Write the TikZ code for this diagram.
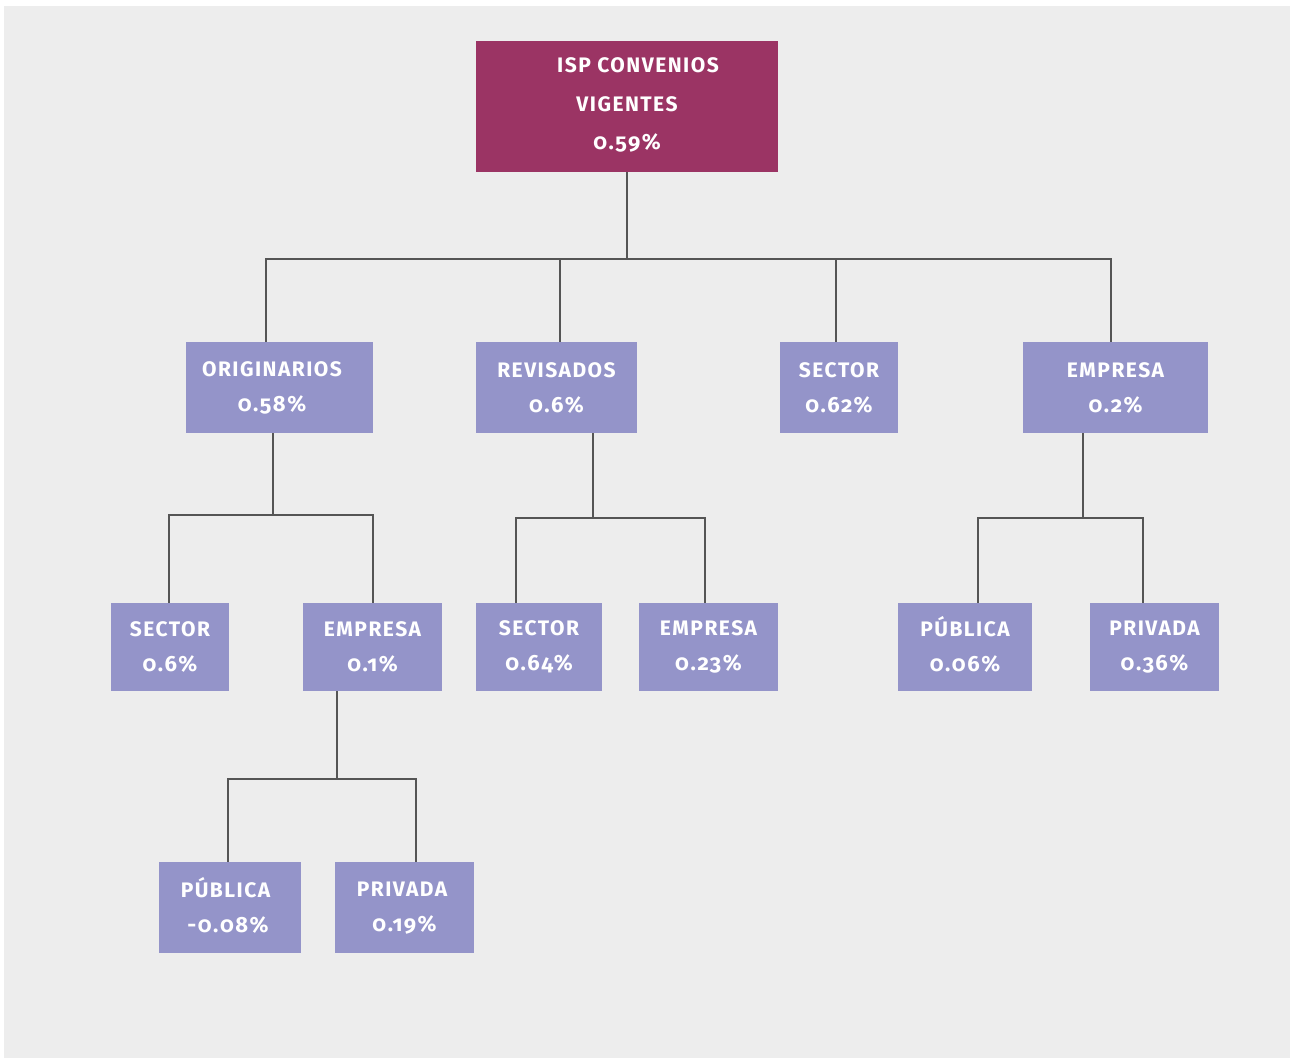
\documentclass[tikz,border=0pt]{standalone}
\usepackage{fontspec}
\setmainfont{Fira Sans}[Numbers=OldStyle,LetterSpace=7]
\definecolor{vino}{HTML}{9B3464}
\definecolor{lila}{HTML}{9494C9}
\definecolor{fondo}{HTML}{EDEDED}
\definecolor{linea}{HTML}{555555}
\newcommand\lbl[2]{\raisebox{0pt}[15pt][0pt]{#1}\\{\fontsize{22}{35}\selectfont #2}}

\begin{document}
\begin{tikzpicture}[x=1pt,y=-1pt,
  box/.style={fill=lila,text=white,inner sep=0pt,minimum height=91pt,align=center,
    font=\bfseries\fontsize{21}{35}\selectfont},
  link/.style={draw=linea,line width=2pt}]

  % Background
  \useasboundingbox (0,0) rectangle (1290,1061);
  \fill[fondo] (4,6) rectangle (1290,1058);

  % Top
  \node[box,fill=vino,minimum width=302pt,minimum height=131pt,
    font=\bfseries\fontsize{21}{39.5}\selectfont] (isp) at (627,106.5)
    {\raisebox{3pt}{\hspace*{22pt}ISP CONVENIOS}\\\raisebox{4pt}{VIGENTES}\\\raisebox{5pt}{\fontsize{22}{39.5}\selectfont 0.59\%}};

  % Second level
  \node[box,minimum width=187pt] (orig) at (279.5,387.5) {\lbl{ORIGINARIOS\hspace*{15pt}}{0.58\%\hspace*{15pt}}};
  \node[box,minimum width=161pt] (rev)  at (556.5,387.5) {\lbl{REVISADOS}{0.6\%}};
  \node[box,minimum width=118pt] (sect) at (839,387.5)   {\lbl{SECTOR}{0.62\%}};
  \node[box,minimum width=185pt] (emp)  at (1115.5,387.5) {\lbl{EMPRESA}{0.2\%}};

  % Third level
  \node[box,minimum width=118pt,minimum height=88pt] (osec)  at (170,647)    {\lbl{SECTOR}{0.6\%}};
  \node[box,minimum width=139pt,minimum height=88pt] (oemp)  at (372.5,647)  {\lbl{EMPRESA}{0.1\%}};
  \node[box,minimum width=126pt,minimum height=88pt] (rsec)  at (539,647)    {\lbl{SECTOR}{0.64\%}};
  \node[box,minimum width=139pt,minimum height=88pt] (remp)  at (708.5,647)  {\lbl{EMPRESA}{0.23\%}};
  \node[box,minimum width=134pt,minimum height=88pt] (epub)  at (965,647)    {\lbl{PÚBLICA}{0.06\%}};
  \node[box,minimum width=129pt,minimum height=88pt] (epriv) at (1154.5,647) {\lbl{PRIVADA}{0.36\%}};

  % Fourth level
  \node[box,minimum width=142pt] (pub)  at (230,907.5)   {\lbl{PÚBLICA\hspace*{9pt}}{-0.08\%\hspace*{4pt}}};
  \node[box,minimum width=139pt] (priv) at (404.5,907.5) {\lbl{PRIVADA\hspace*{5pt}}{0.19\%}};

  % Links
  \draw[link] (isp.south) -- ++(0,87);
  \draw[link] ([xshift=-14pt]orig.north) -- ++(0,-83) -| ([xshift=-5pt]emp.north);
  \draw[link] ([xshift=3pt]rev.north) -- ++(0,-83);
  \draw[link] ([xshift=-3pt]sect.north) -- ++(0,-83);

  \draw[link] ([xshift=-6.5pt]orig.south) -- ++(0,82);
  \draw[link] ([xshift=-1pt]osec.north) -- ++(0,-88) -| ([xshift=0.5pt]oemp.north);

  \draw[link] ([xshift=36.5pt]rev.south) -- ++(0,85);
  \draw[link] ([xshift=-23pt]rsec.north) -- ++(0,-85) -| ([xshift=-3.5pt]remp.north);

  \draw[link] ([xshift=-32.5pt]emp.south) -- ++(0,85);
  \draw[link] ([xshift=13pt]epub.north) -- ++(0,-85) -| ([xshift=-11.5pt]epriv.north);

  \draw[link] ([xshift=-35.5pt]oemp.south) -- ++(0,88);
  \draw[link] ([xshift=-2pt]pub.north) -- ++(0,-83) -| ([xshift=11.5pt]priv.north);

\end{tikzpicture}
\end{document}
